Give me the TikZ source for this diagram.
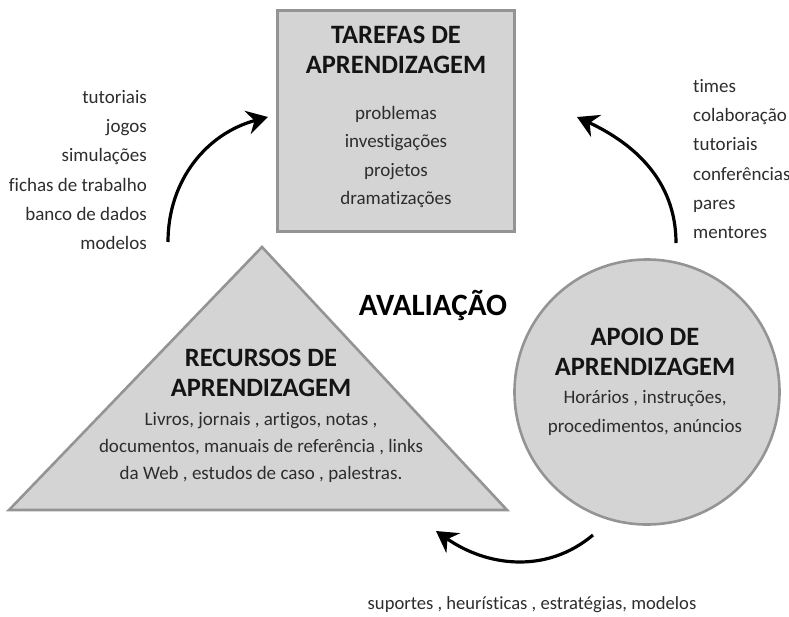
\documentclass[tikz,border=0pt]{standalone}
\usepackage{fontspec}
\setmainfont{Carlito}[Ligatures=NoCommon]
\usetikzlibrary{arrows.meta, positioning, shapes.geometric}

\definecolor{boxfill}{RGB}{212,212,212}
\definecolor{boxline}{RGB}{148,148,148}
\definecolor{itemtext}{RGB}{45,45,45}

\begin{document}
\begin{tikzpicture}[x=1pt, y=-1pt, >=Stealth,
    shapebox/.style={draw=boxline, fill=boxfill, line width=3.2pt},
    head/.style={align=center, inner sep=0pt, text=black!92,
      font=\fontsize{26.5}{30}\selectfont\bfseries},
    items/.style={align=center, inner sep=0pt, text=itemtext,
      font=\fontsize{19}{28.5}\selectfont},
    labels/.style={inner sep=0pt, text=itemtext,
      font=\fontsize{19}{29.3}\selectfont},
    flow/.style={line width=3.2pt,
      -{Stealth[length=21pt, width=24pt, inset=7pt]}}]

  \useasboundingbox (0,0) rectangle (789,616);

  % top: TAREFAS DE APRENDIZAGEM
  \node[shapebox, minimum width=237pt, minimum height=221pt] (tarefas)
    at (396,121) {};
  \node[head] (tarefashead) at (396,50) {TAREFAS DE\\APRENDIZAGEM};
  \node[items] (tarefasitems) at (396,157)
    {problemas\\investigações\\projetos\\dramatizações};

  % left: RECURSOS DE APRENDIZAGEM (triangle)
  \coordinate (tl) at (9,510);
  \coordinate (tt) at (262,247);
  \coordinate (tr) at (507,510);
  \draw[shapebox, line width=2.6pt, line join=miter] (tl) -- (tt) -- (tr) -- cycle;
  \node[head] (recursoshead) at (261,373) {RECURSOS DE\\APRENDIZAGEM};
  \node[items, font=\fontsize{19}{27}\selectfont] (recursositems) at (261,447)
    {Livros, jornais , artigos, notas ,\\
     documentos, manuais de referência , links\\
     da Web , estudos de caso , palestras.};

  % right: APOIO DE APRENDIZAGEM (circle)
  \node[shapebox, line width=2.6pt, circle, minimum size=265pt] (apoio)
    at (647,392) {};
  \node[head] (apoiohead) at (645,352) {APOIO DE\\APRENDIZAGEM};
  \node[items, font=\fontsize{19}{29}\selectfont] (apoioitems) at (645,413)
    {Horários , instruções,\\procedimentos, anúncios};

  % centre
  \node[font=\fontsize{31}{34}\selectfont\bfseries, inner sep=0pt]
    (avaliacao) at (433,305) {AVALIAÇÃO};

  % side lists
  \node[labels, align=right, anchor=east] (ferramentas) at (147,170)
    {tutoriais\\jogos\\simulações\\fichas de trabalho\\banco de dados\\modelos};
  \node[labels, align=left, anchor=west] (pessoas) at (693,159)
    {times\\colaboração\\tutoriais\\conferências\\pares\\mentores};
  \node[labels, font=\fontsize{18.6}{22}\selectfont] (orientacao) at (532,605)
    {suportes , heurísticas , estratégias, modelos};

  % arrows
  \coordinate (la) at (168,242);
  \coordinate (lb) at (268,117);
  \coordinate (ra) at (676,243);
  \coordinate (rb) at (577,117);
  \coordinate (ba) at (593,535);
  \coordinate (bb) at (436,531);
  \draw[flow] (la) to[out=90, in=195] (lb);
  \draw[flow] (ra) to[out=90, in=-25] (rb);
  \draw[flow] (ba) to[out=220, in=-35] (bb);

\end{tikzpicture}
\end{document}
